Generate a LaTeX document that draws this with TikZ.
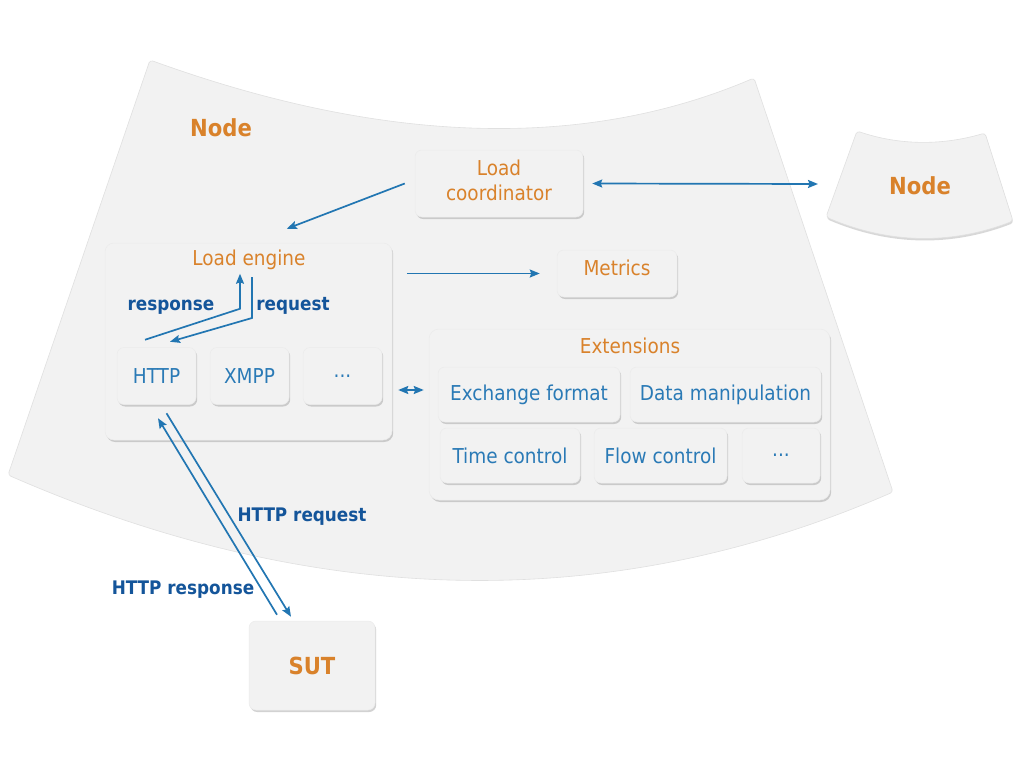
\documentclass[tikz,border=0pt]{standalone}
\usepackage{fontspec}
\setmainfont{DejaVu Sans}[FakeStretch=0.9]
\usetikzlibrary{shadows,arrows.meta}
\definecolor{bg}{HTML}{F2F2F2}
\definecolor{org}{HTML}{D9822B}
\definecolor{txtblue}{HTML}{2A7AB6}
\definecolor{lblblue}{HTML}{14559A}
\definecolor{arrblue}{HTML}{2276B2}
\tikzset{
  box/.style={rounded corners=7pt, fill=bg, draw=black!8, line width=0.5pt,
    drop shadow={shadow xshift=1.2pt, shadow yshift=-2pt, opacity=0.35},
    inner sep=0pt},
  btxt/.style={text=txtblue, font=\fontsize{20.5}{24}\selectfont},
  otxt/.style={text=org, font=\fontsize{20.5}{25}\selectfont},
  ntitle/.style={text=org, font=\bfseries\fontsize{23.5}{27}\selectfont},
  lbl/.style={text=lblblue, font=\bfseries\fontsize{18.7}{22}\selectfont},
  arr/.style={draw=arrblue, line width=1.7pt, -{Stealth[length=10pt,width=8pt,inset=1.5pt]}},
  darr/.style={draw=arrblue, line width=1.7pt, {Stealth[length=10pt,width=8pt,inset=1.5pt]}-{Stealth[length=10pt,width=8pt,inset=1.5pt]}},
  region/.style={fill=bg, draw=black!12, line width=0.6pt, rounded corners=3pt}
}
\begin{document}
\begin{tikzpicture}[x=1pt,y=-1pt]
\useasboundingbox (0,0) rectangle (1024,768);
\fill[white] (0,0) rectangle (1024,768);

% big node region
\path[region] (150,60) .. controls (382,144) and (583,151) .. (754,78)
  -- (893,492) .. controls (610.7,615) and (315.7,609.3) .. (8,475) -- cycle;
\node[ntitle] (nodetitle) at (221,128) {Node};

% small node region
\path[region, drop shadow={shadow xshift=0.5pt, shadow yshift=-2pt, opacity=0.3}]
  (857,131) .. controls (898,145) and (941,146) .. (985,133)
  -- (1013,221) .. controls (951,245) and (889,244) .. (826,217) -- cycle;
\node[ntitle] (node2) at (920,186) {Node};
\coordinate (n2w) at (838,184);

% boxes
\node[box, minimum width=168pt, minimum height=67pt] (lc) at (499,183.5) {};
\node[otxt, align=center] (lctext) at (499,180) {Load\\coordinator};

\node[box, rounded corners=9pt, minimum width=287pt, minimum height=197pt] (le) at (248.5,341.5) {};
\node[otxt] (letitle) at (249,260) {Load engine};
\node[box, minimum width=79pt, minimum height=57pt] (http) at (156.5,376) {};
\node[btxt] at (http.center) {HTTP};
\node[box, minimum width=79pt, minimum height=57pt] (xmpp) at (249.5,376) {};
\node[btxt] at (xmpp.center) {XMPP};
\node[box, minimum width=79pt, minimum height=57pt] (pdots) at (342.5,376) {};
\node[btxt] at (pdots.center) {...};

\node[box, minimum width=120pt, minimum height=47pt] (metrics) at (617,273.5) {};
\node[otxt] at (617,268) {Metrics};

\node[box, rounded corners=10pt, minimum width=401pt, minimum height=171pt] (ext) at (629.5,414.5) {};
\node[otxt] (exttitle) at (630,346) {Extensions};
\node[box, minimum width=182pt, minimum height=55pt] (exch) at (529,394.5) {};
\node[btxt] at (exch.center) {Exchange format};
\node[box, minimum width=191pt, minimum height=55pt] (data) at (725.5,394.5) {};
\node[btxt] at (data.center) {Data manipulation};
\node[box, minimum width=140pt, minimum height=55pt] (time) at (510,455.5) {};
\node[btxt] at (time.center) {Time control};
\node[box, minimum width=133pt, minimum height=55pt] (flow) at (660.5,455.5) {};
\node[btxt] at (flow.center) {Flow control};
\node[box, minimum width=78pt, minimum height=55pt] (edots) at (781,455.5) {};
\node[btxt] at (edots.center) {...};

\node[box, minimum width=126pt, minimum height=89pt] (sut) at (312,665.5) {};
\node[ntitle] at (sut.center) {SUT};

% connectors
\draw[arr] ([xshift=-10pt]lc.west) -- ([xshift=182pt,yshift=14pt]le.north west);
\draw[darr] ([xshift=9pt]lc.east) -- ([xshift=-20pt]n2w);
\draw[arr] ([xshift=-150pt]metrics.west) -- ([xshift=-17pt]metrics.west);
\draw[darr] ([xshift=6pt,yshift=-48.5pt]le.east) -- ([xshift=-5pt,yshift=24.5pt]ext.west);

% internal response / request
\coordinate (rq0) at (252,277);
\draw[arr] ([xshift=-11.5pt,yshift=7.5pt]http.north) -- ++(95,-31) -- ++(0,-35);
\draw[arr] (rq0) -- ++(0,41) -- ([xshift=13.5pt,yshift=5.5pt]http.north);
\node[lbl] at (171,307) {response};
\node[lbl] at (293,306) {request};

% HTTP request / response
\draw[arr] ([xshift=10pt,yshift=-8.5pt]http.south) -- ([xshift=-21pt,yshift=4pt]sut.north);
\draw[arr] ([xshift=-35pt,yshift=6pt]sut.north) -- ([xshift=1.5pt,yshift=-13.5pt]http.south);
\node[lbl] at (302,517) {HTTP request};
\node[lbl] at (183,590) {HTTP response};
\end{tikzpicture}
\end{document}
